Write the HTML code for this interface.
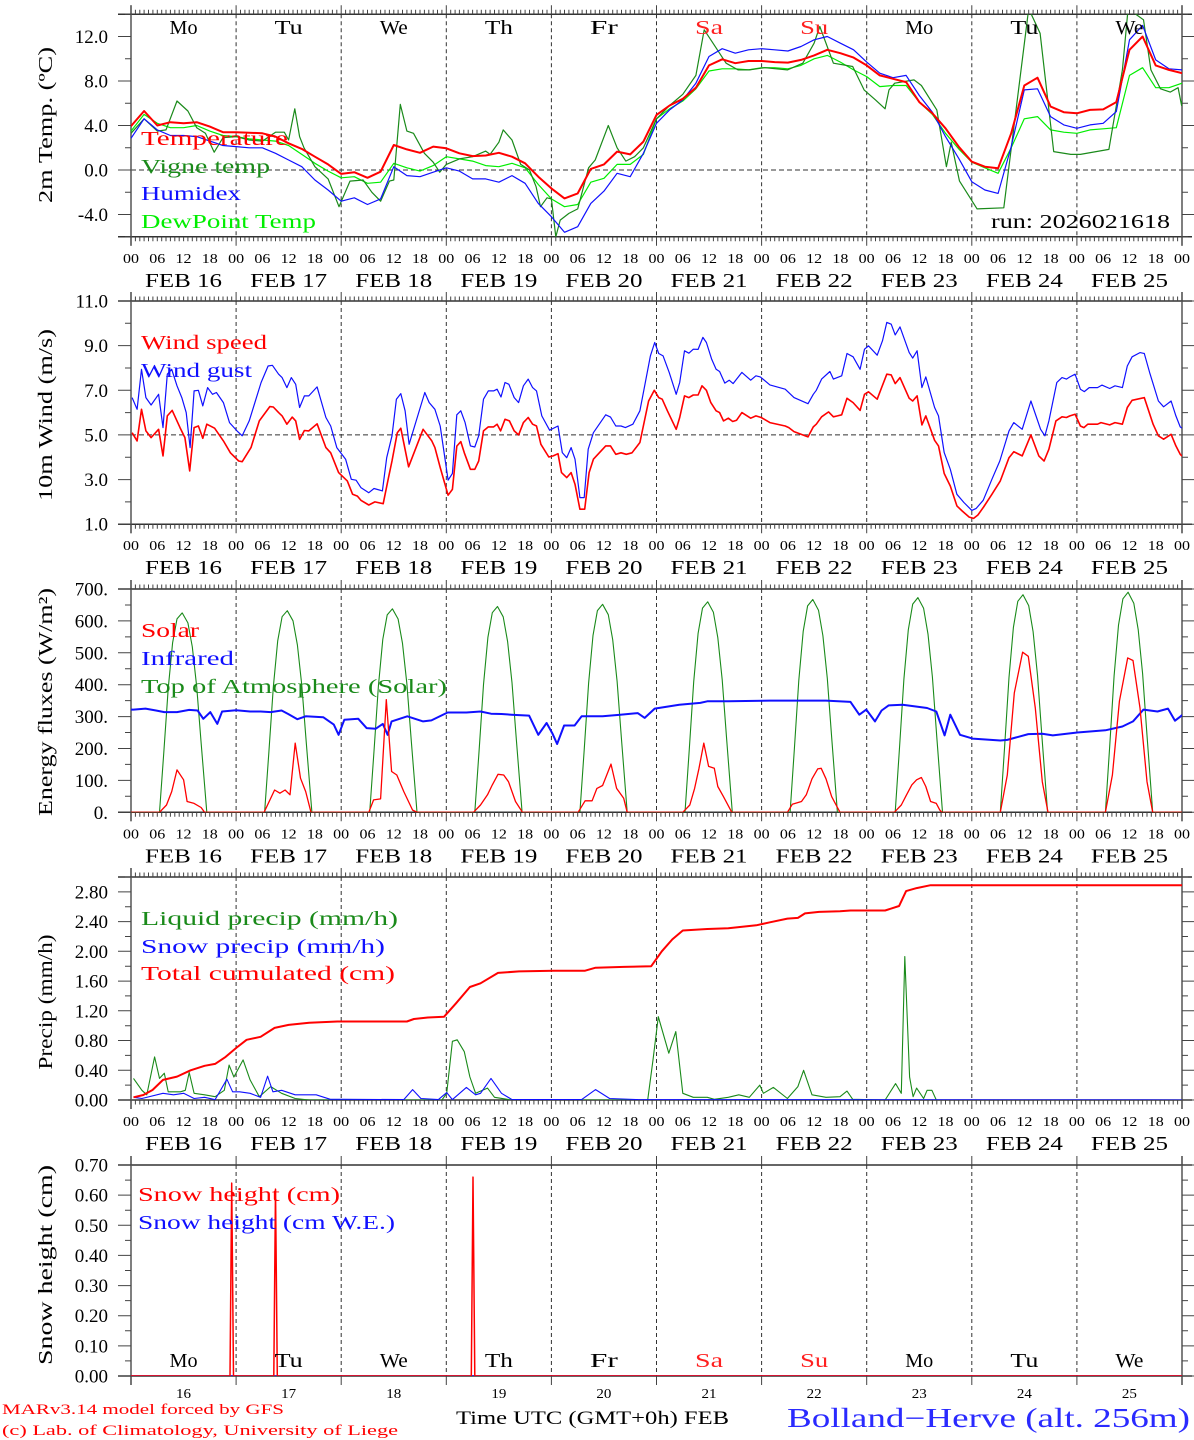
<!DOCTYPE html>
<html><head><meta charset="utf-8"><title>MAR forecast Bolland-Herve</title>
<style>
html,body{margin:0;padding:0;background:#fff;}
svg{display:block;font-family:"Liberation Serif",serif;}
</style></head>
<body>
<svg id="chart" width="1194" height="1440" viewBox="0 0 1194 1440" xmlns="http://www.w3.org/2000/svg"></svg>
<script>
// ---------- DATA ----------
const dayNames = ["Mo","Tu","We","Th","Fr","Sa","Su","Mo","Tu","We"];
const dayNameRed = [false,false,false,false,false,true,true,false,false,false];
const dayNumbers = ["16","17","18","19","20","21","22","23","24","25"];
const hourTickLabels = ["00","06","12","18"];

// Panel 1: temperatures, 3-hourly from FEB16 00 UTC
const tempVals = [3.95,5.3,4.0,4.3,4.2,4.3,3.9,3.4, 3.4,3.35,3.3,3.0,2.4,1.9,1.2,0.5, -0.35,-0.2,-0.7,-0.15,2.25,1.85,1.55,2.1, 1.95,1.5,1.25,1.3,1.55,1.2,0.6,-0.6, -1.65,-2.55,-2.1,0.1,0.5,1.65,1.4,2.55, 4.95,5.8,6.4,7.4,9.4,9.95,9.6,9.8, 9.8,9.7,9.65,9.9,10.3,10.8,10.5,10.1, 9.4,8.5,8.2,7.9,6.1,5.1,3.75,2.1, 0.75,0.3,0.15,3.3,7.6,8.3,5.7,5.2, 5.1,5.4,5.45,6.1,10.8,12.0,9.4,9.0,8.7];
const humidexVals = [2.85,4.6,3.6,3.1,3.1,3.0,2.6,2.2, 2.1,2.0,2.0,1.5,0.9,0.3,-0.9,-1.8, -2.8,-2.5,-3.1,-2.6,0.3,-0.5,-0.6,-0.2, 0.2,-0.1,-0.8,-0.8,-1.1,-0.5,-1.2,-3.0, -4.2,-5.6,-5.1,-3.0,-1.9,-0.3,-0.6,1.5, 4.2,5.4,6.3,7.8,10.2,10.9,10.5,10.8, 10.9,10.8,10.7,11.1,11.7,12.0,11.4,10.8, 9.7,8.7,8.3,8.5,6.7,5.2,3.0,1.05, -1.05,-1.8,-2.1,2.1,7.2,7.3,4.8,4.05, 3.75,4.05,4.2,5.25,11.7,13.0,9.9,9.1,9.0];
const dewVals = [3.5,5.0,4.2,3.8,3.8,4.0,3.5,3.1, 3.0,2.8,2.7,2.6,2.2,1.4,0.6,-0.1, -0.7,-0.6,-1.2,-1.1,0.6,0.2,-0.1,0.4, 1.2,1.0,0.8,0.4,0.3,0.6,0.2,-1.3, -2.6,-3.3,-3.1,-1.1,-0.75,0.5,0.5,1.4, 4.6,5.5,6.2,7.3,8.9,9.1,9.1,9.0, 9.2,9.2,9.1,9.4,10.0,10.3,9.7,9.0, 8.4,7.5,7.6,7.6,6.1,5.0,3.3,1.9, 0.7,0.2,-0.3,2.0,4.6,4.8,3.6,3.4, 3.3,3.6,3.7,3.8,8.5,9.2,7.4,7.4,7.8];
const vigneHours = [0,3,6,8,10.5,13,15,17,19,21,24,27,30,33,35,36,37.4,38.5,39.5,42,45,47.5,50,53,55,57,59,60,61.5,63,64.5,67,69,70.5,72,75,78,81,82,84,85,87,89,91,92.5,93.5,95,96,97,98,100,102,104.5,106,109,111,113,115,117,120,123,126,129,130.9,132.4,135.9,138.6,141.2,144.7,149.9,153.4,156.0,157.3,160.4,164.8,167.4,170.0,172.2,173.1,174.4,178.8,180.5,184.0,186.2,187.3,189.2,193.2,199.3,201.9,205.0,207.6,210.7,214.6,216.8,223.3,226.4,227.7,231.2,232.9,235.1,237.3,239.1,239.9,240];
const vigneVals = [3.3,4.6,3.5,3.6,6.2,5.3,3.8,3.3,1.6,2.9,3.0,2.7,2.6,3.4,3.4,2.7,5.5,3.0,2.0,0.3,-0.8,-3.3,-1.0,-0.9,-2.0,-2.8,-1.0,-0.9,5.9,3.5,3.3,1.5,0.7,-0.2,0.5,1.0,1.2,1.7,1.4,2.5,3.6,2.7,0.5,0.0,-1.5,-3.3,-2.5,-2.6,-6.0,-4.5,-3.9,-3.5,0.2,0.9,4.0,2.0,0.8,1.2,2.0,4.6,5.8,6.8,8.5,12.6,11.7,9.6,9.0,9.0,9.2,9.0,9.6,11.4,12.9,9.6,9.3,7.2,6.3,5.5,7.2,7.8,8.1,7.6,5.4,0.3,2.5,-1.0,-3.5,-3.4,4.8,14.5,12.3,1.65,1.4,1.4,1.85,9.0,14.5,13.5,9.0,7.3,7.0,7.4,5.8,6.2];

// Panel 2: wind
const windHours = [0.24,1.4,2.4,3.4,4.6,6.3,7.3,8.3,9.4,11.2,12.3,13.4,14.4,15.4,16.4,17.3,19.1,21.1,22.7,24.6,25.4,27.4,29.3,31.7,32.5,33.7,34.5,35.6,36.8,37.6,38.5,39.6,40.6,42.5,44.5,45.6,47.4,49.4,50.6,51.7,52.5,54.3,55.7,57.6,58.8,59.6,60.8,61.6,63.4,66.7,68.7,69.4,70.6,72.4,73.4,74.4,75.3,76.1,77.5,78.5,79.4,80.5,81.6,82.8,83.6,84.4,85.4,86.4,87.5,88.5,89.6,90.7,91.7,92.6,93.6,95.4,96.4,97.5,98.3,99.5,100.5,101.4,102.5,103.6,104.6,105.6,108.4,109.5,110.7,111.9,113.1,114.4,116.2,118.2,119.5,120.5,121.3,122.5,124.5,125.3,126.4,127.4,128.4,129.5,130.4,131.4,132.4,133.6,134.4,135.3,136.4,137.4,138.3,139.5,141.5,142.7,143.9,145.9,149.4,150.2,151.4,154.6,155.8,156.5,157.7,159.3,160.4,161.3,162.3,163.5,164.9,166.5,167.5,168.4,170.4,171.4,172.6,173.6,174.5,175.6,177.7,178.5,179.5,180.6,181.5,183.5,184.4,185.7,187.1,188.6,189.8,191.4,192.4,193.4,194.7,196.6,198.5,200.5,201.6,203.5,205.5,207.3,208.5,209.6,211.2,212.6,213.6,214.4,215.6,216.8,217.6,218.5,220.7,221.5,223.5,224.7,226.4,227.5,228.6,231.4,233.4,234.6,235.8,237.5,238.6,239.6,240];
const windSpeed = [5.1,4.73,6.15,5.18,4.88,5.25,4.06,5.85,6.1,5.33,4.88,3.39,5.33,5.4,4.85,5.48,5.3,4.73,4.2,3.83,3.8,4.43,5.63,6.27,6.25,6.0,5.85,5.48,5.8,5.63,4.8,5.2,5.18,5.5,4.43,4.2,3.31,2.94,2.34,2.26,2.07,1.86,2.0,1.92,3.09,3.83,5.1,5.3,3.57,5.25,4.73,4.43,3.54,2.3,2.56,4.5,4.7,4.2,3.46,3.46,3.83,5.18,5.36,5.36,5.48,5.18,5.7,5.63,5.18,5.0,5.55,5.78,5.48,5.4,4.58,4.01,4.06,4.16,3.31,3.09,3.31,2.79,1.67,1.67,3.31,3.91,4.51,4.51,4.13,4.2,4.13,4.2,4.66,6.52,7.0,6.67,6.6,6.08,5.25,5.78,6.75,6.67,6.79,6.79,7.2,7.0,6.45,6.08,6.0,5.63,5.75,5.6,5.66,6.0,5.75,5.85,5.78,5.55,5.4,5.33,5.15,4.91,5.36,5.48,5.81,6.03,5.81,5.85,5.9,6.64,6.45,6.1,6.82,6.93,6.6,7.12,7.72,7.69,7.3,7.57,6.64,6.52,6.75,5.45,5.85,4.76,4.51,3.27,2.71,1.82,1.59,1.32,1.26,1.41,1.77,2.34,2.94,3.98,4.25,4.06,5.0,4.06,3.83,4.36,5.63,5.81,5.78,5.85,5.93,5.4,5.33,5.48,5.48,5.55,5.45,5.55,5.48,6.23,6.55,6.67,5.48,4.96,4.81,5.03,4.51,4.13,4.05];
const gustHours = [0.24,1.4,2.4,3.4,4.6,6.3,7.3,8.3,9.3,10.5,11.6,12.6,13.5,14.4,15.4,16.4,17.5,18.6,19.5,21.1,22.5,24.2,25.4,27.0,29.7,31.3,32.3,33.7,34.5,35.6,36.6,37.6,38.5,39.6,40.6,42.5,44.5,45.6,47.0,49.0,50.3,51.4,52.5,54.3,55.5,57.4,58.4,59.6,60.6,61.6,62.6,63.5,67.1,68.1,69.4,70.6,72.4,73.4,74.4,75.3,76.3,77.5,78.5,79.4,80.5,81.6,82.8,83.6,84.5,85.4,86.3,87.5,88.5,89.6,90.7,91.7,92.6,93.8,95.6,97.5,98.5,99.5,100.5,101.4,102.5,103.5,104.4,105.6,108.4,109.5,110.7,111.9,112.9,114.6,116.2,118.6,119.6,120.5,121.5,122.9,124.5,125.3,126.4,127.4,128.4,129.5,130.6,131.4,132.6,133.6,134.4,135.6,136.6,137.5,139.5,141.5,142.7,143.7,145.9,149.4,151.4,154.6,155.8,156.5,157.7,159.6,160.4,162.3,163.5,164.9,166.5,167.5,168.4,170.4,171.6,172.6,173.6,174.5,175.6,177.7,178.5,179.5,180.6,181.5,183.5,184.4,185.7,187.1,188.6,190.2,192.0,193.0,194.6,196.6,198.4,200.5,201.6,203.5,205.5,207.7,208.7,209.6,211.4,212.6,213.6,214.4,215.6,216.8,217.7,218.8,220.7,221.7,223.5,224.7,226.4,227.5,228.6,230.4,231.4,232.6,234.6,235.8,237.5,238.6,239.6,240];
const windGust = [6.67,6.15,7.94,6.67,6.34,6.82,5.33,7.72,7.94,7.2,6.67,6.0,4.43,6.97,7.0,6.3,7.12,6.82,6.9,6.45,5.55,5.18,4.96,5.63,7.35,8.09,8.12,7.72,7.57,7.12,7.57,7.27,6.23,6.75,6.75,7.15,5.78,5.4,4.43,3.91,3.01,2.97,2.64,2.41,2.6,2.49,3.98,4.96,6.6,6.85,6.08,4.58,6.9,6.45,6.15,5.4,2.97,3.27,5.9,6.08,5.55,4.51,4.46,4.96,6.6,6.97,6.97,7.05,6.7,7.35,7.27,6.67,6.45,7.2,7.5,7.12,6.97,5.85,5.21,5.4,4.21,3.98,4.43,3.91,2.19,2.19,4.36,5.1,5.9,5.8,5.4,5.4,5.33,5.48,6.08,8.54,9.14,8.65,8.54,7.8,6.82,7.35,8.77,8.66,8.84,8.83,9.37,9.14,8.39,7.94,7.84,7.32,7.45,7.3,7.8,7.45,7.65,7.6,7.24,7.05,6.67,6.4,6.82,7.0,7.5,7.84,7.5,7.65,8.65,8.5,7.94,8.84,8.99,8.57,9.22,10.04,9.96,9.48,9.84,8.69,8.44,8.77,7.12,7.6,6.23,5.85,4.21,3.46,2.34,1.97,1.62,1.71,2.07,3.01,3.83,5.18,5.55,5.25,6.52,5.25,4.96,5.63,7.35,7.57,7.5,7.6,7.72,7.05,6.94,7.12,7.12,7.23,7.08,7.2,7.12,8.09,8.5,8.69,8.65,7.8,6.52,6.26,6.52,5.85,5.36,5.3];

// Panel 3: energy fluxes
const solarHours = [0,6.5,8.1,9.3,10.5,12.0,12.8,14.4,16.0,16.8, 30.4,32.8,34.0,35.2,36.3,37.5,38.7,39.9,41.1, 54.3,55.4,57.0,58.3,59.5,60.7,62.3,64.3,65.4, 78.2,79.8,81.4,82.5,83.8,85.1,86.2,87.8,89.4, 102.1,103.7,105.3,106.4,107.7,108.5,109.6,110.9,112.5,113.3, 126.0,127.6,128.7,129.7,130.8,131.9,133.2,134.0,135.3,137.2, 149.9,151.0,153.1,154.2,155.5,156.8,157.6,158.7,160.0,161.9, 174.3,175.9,177.0,178.3,179.4,180.5,181.5,182.6,183.9,184.7,185.2, 198.5,200.1,201.7,203.6,204.9,206.5,208.1,209.4, 222.5,224.1,225.7,227.6,228.8,230.4,232.0,233.3,240];
const solarVals = [0,0,23,65,133,102,34,28,15,0, 0,70,60,70,55,217,107,65,0, 0,39,42,353,128,117,65,7,0, 0,23,55,86,119,117,96,34,0, 0,36,36,75,84,112,151,75,44,0, 0,23,75,138,217,144,138,81,49,0, 0,25,34,55,105,136,138,105,49,0, 0,23,52,86,102,109,81,34,28,7,0, 0,117,374,502,489,327,96,0, 0,117,348,484,476,327,96,0,0];
const irHours = [0,0.57,3.3,5.7,7.6,10.5,13.3,15.2,16.5,18.1,19.7,20.8,24.0,27.2,29.6,31.9,34.4,35.9,38.0,39.9,43.9,46.3,47.4,48.7,51.9,53.8,55.9,57.5,58.6,59.5,63.1,66.7,68.6,72.3,76.6,79.8,82.2,84.6,86.9,90.9,93.0,94.9,96.2,97.3,98.9,101.3,102.9,107.7,111.7,115.7,117.3,119.6,125.2,130.0,131.6,136.4,145.9,152.3,158.7,164.3,166.3,167.9,169.9,171.4,173.0,176.2,181.8,183.9,185.8,187.1,189.3,192.2,198.5,200.1,204.9,208.1,210.5,216.1,222.5,226.4,228.8,231.2,234.4,236.8,238.4,239.7,240];
const irVals = [322,322,325,319,314,314,321,319,293,314,277,316,320,316,316,314,319,308,292,301,298,275,243,290,293,264,262,277,243,285,301,285,288,313,313,316,309,308,306,303,243,280,248,214,272,272,301,301,306,311,296,325,337,343,348,348,350,350,350,346,306,322,285,319,335,337,327,316,241,306,243,231,225,227,245,246,241,250,257,269,285,322,316,325,287,301,305];
const toaPeaks = [625,632,638,645,652,660,667,673,682,690];
const toaOffsets = [6.5,7.5,8.5,9.5,10.5,11.7,13,14,15,16,17.3];
const toaShape = [0,0.3,0.62,0.85,0.97,1,0.95,0.83,0.63,0.35,0];

// Panel 4: precipitation
const cumHours = [0.57,2.8,4.9,7.3,10.5,13.6,16.8,19.2,21.6,24.0,26.4,29.6,32.8,36.0,40.7,47.1,56.7,63.0,64.6,67.8,71.5,74.2,77.4,79.8,83.8,88.6,96.5,103.7,106.1,112.5,118.8,121.2,123.6,126.0,131.6,136.4,142.8,145.9,149.9,152.3,153.9,157.1,161.9,164.3,172.2,175.4,177.0,179.4,182.6,240];
const cumVals = [0.036,0.067,0.135,0.27,0.315,0.40,0.46,0.485,0.58,0.70,0.81,0.85,0.97,1.01,1.04,1.056,1.056,1.056,1.09,1.11,1.12,1.30,1.52,1.57,1.71,1.73,1.74,1.74,1.78,1.79,1.80,2.00,2.16,2.28,2.30,2.31,2.35,2.39,2.44,2.45,2.51,2.53,2.54,2.55,2.55,2.61,2.81,2.85,2.89,2.89];
const liqHours = [0.57,2.5,3.6,5.4,6.5,7.6,8.5,11.3,12.4,13.3,14.4,16.8,19.2,21.3,22.4,23.5,25.6,27.2,29.3,31.9,34.4,37.5,40.7,71.0,72.1,73.4,74.5,76.1,77.4,78.7,81.4,83.0,86.9,118.0,119.2,120.4,122.8,124.4,126.0,128.4,131.6,133.2,136.4,138.8,141.2,143.6,144.4,146.7,149.9,152.3,153.6,155.5,158.7,161.9,163.5,164.8,172.2,174.6,175.9,176.7,177.8,178.6,179.4,181.0,181.8,182.9,183.9,240];
const liqVals = [0.29,0.13,0.07,0.58,0.29,0.36,0.11,0.11,0.13,0.37,0.09,0.07,0.045,0.13,0.47,0.31,0.54,0.27,0.045,0.18,0.09,0.02,0,0,0.09,0.79,0.81,0.65,0.31,0.09,0.16,0.036,0,0,0.54,1.12,0.63,0.92,0.09,0.036,0.036,0.01,0.036,0.07,0.036,0.2,0.09,0.17,0.02,0.18,0.40,0.07,0.036,0.045,0.12,0.01,0,0.22,0.09,1.93,0.31,0.045,0.16,0.02,0.13,0.13,0,0];
const snowHours = [0.57,2.5,7.3,9.7,12.0,14.4,16.8,19.2,21.9,23.2,24.8,27.2,29.6,31.2,32.4,34.4,37.5,42.3,45.5,48.7,62.3,64.3,66.2,70.2,72.1,73.4,76.6,78.7,79.8,82.2,84.6,87.0,102.9,106.1,109.3,115.7,240];
const snowVals = [0.036,0.02,0.09,0.07,0.09,0.02,0.036,0.005,0.28,0.11,0.11,0.09,0.036,0.32,0.11,0.13,0.07,0.07,0.01,0.01,0.005,0.14,0.02,0.005,0.1,0.005,0.17,0.07,0.09,0.29,0.09,0.005,0.005,0.14,0.02,0.005,0];

// Panel 5: snow height
const snowHHours = [0,22.6,23.0,23.4,32.6,33.0,33.4,77.7,78.1,78.5,240];
const snowHVals = [0,0,0.64,0,0,0.62,0,0,0.66,0,0];
const snowWEHours = [0,240];
const snowWEVals = [0,0];

// ---------- LAYOUT ----------
const NS = "http://www.w3.org/2000/svg";
const svg = document.getElementById("chart");
const X0 = 131, X1 = 1182, HOURS = 240;
function xs(h){ return X0 + h*(X1-X0)/HOURS; }
const panels = [
  {top:14.25, bot:236.75, vmin:-6, vmax:14},
  {top:301, bot:524.2, vmin:1, vmax:11},
  {top:589, bot:812.3, vmin:0, vmax:700},
  {top:877, bot:1100, vmin:0, vmax:3.0},
  {top:1165, bot:1376, vmin:0, vmax:0.7}
];
function ys(p, v){ const P=panels[p]; return P.bot - (v-P.vmin)/(P.vmax-P.vmin)*(P.bot-P.top); }

function el(tag, attrs, parent){
  const e = document.createElementNS(NS, tag);
  for (const k in attrs) e.setAttribute(k, attrs[k]);
  (parent||svg).appendChild(e);
  return e;
}
function txt(x, y, s, size, fill, anchor, len, parent){
  const a = {x:x, y:y, "font-size":size, fill:fill||"#000", "text-anchor":anchor||"start"};
  if (len){ a.textLength = len; a.lengthAdjust = "spacingAndGlyphs"; }
  const e = el("text", a, parent);
  e.textContent = s;
  return e;
}

// clip paths
const defs = el("defs", {});
panels.forEach((P,i)=>{
  const cp = el("clipPath", {id:"clip"+i}, defs);
  el("rect", {x:X0, y:P.top, width:X1-X0, height:P.bot-P.top}, cp);
});

function drawLine(p, hours, vals, color, w, name){
  const pts = hours.map((h,i)=> xs(h).toFixed(1)+","+ys(p, vals[i]).toFixed(1)).join(" ");
  const pl = el("polyline", {points:pts, fill:"none", stroke:color, "stroke-width":w, "stroke-linejoin":"round", "clip-path":"url(#clip"+p+")"});
  
  
  return pl;
}

// ---------- FRAMES, AXES ----------
function drawFrame(p, yTicks, yMinor, fmt, refLine, hourLabels){
  const P = panels[p];
  const g = el("g", {});
  
  
  // day dashed lines
  for (let d=1; d<10; d++){
    el("line", {x1:xs(d*24), x2:xs(d*24), y1:P.top, y2:P.bot, stroke:"#333", "stroke-width":1, "stroke-dasharray":"4,3"}, g);
  }
  if (refLine !== null){
    el("line", {x1:X0, x2:X1, y1:ys(p,refLine), y2:ys(p,refLine), stroke:"#333", "stroke-width":1, "stroke-dasharray":"5,3"}, g);
  }
  // box
  el("line", {x1:118, x2:1192, y1:P.top, y2:P.top, stroke:"#333", "stroke-width":1.5}, g);
  el("line", {x1:118, x2:1192, y1:P.bot, y2:P.bot, stroke:"#333", "stroke-width":1.5}, g);
  el("line", {x1:X0, x2:X0, y1:P.top-9, y2:P.bot+9, stroke:"#555", "stroke-width":1.5}, g);
  el("line", {x1:X1, x2:X1, y1:P.top-9, y2:P.bot+9, stroke:"#555", "stroke-width":1.5}, g);
  // x ticks
  let path = "";
  for (let h=0; h<=HOURS; h++){
    const major = h%24===0;
    if (!hourLabels && !major) continue;
    const L = major ? 9 : 4.5;
    const x = xs(h).toFixed(1);
    path += "M"+x+","+P.top+"v"+(-L)+"M"+x+","+P.bot+"v"+L;
  }
  // y ticks
  yMinor.forEach(v=>{ const y=ys(p,v).toFixed(1); path += "M"+(X0-6)+","+y+"h6M"+X1+","+y+"h6"; });
  yTicks.forEach(v=>{ const y=ys(p,v).toFixed(1); path += "M"+(X0-13)+","+y+"h13M"+X1+","+y+"h12"; });
  el("path", {d:path, stroke:"#444", "stroke-width":1, fill:"none"}, g);
  yTicks.forEach(v=>{
    const t = txt(108, ys(p,v)+6.5, fmt(v), 19, "#000", "end", null, g);
    
    
  });
  if (hourLabels){
    for (let d=0; d<10; d++){
      for (let k=0; k<4; k++){
        txt(xs(d*24+k*6), P.bot+26, hourTickLabels[k], 14, "#000", "middle", 16, g);
      }
      const f = txt(xs(d*24+12), P.bot+50, "FEB "+dayNumbers[d], 20, "#000", "middle", 77, g);
      
      
    }
    txt(xs(240), P.bot+26, "00", 14, "#000", "middle", 16, g);
  }
}
function range(a,b,s){ const r=[]; for(let v=a; v<=b+1e-9; v+=s) r.push(+v.toFixed(4)); return r; }

drawFrame(0, [12,8,4,0,-4], range(-6,14,2), v=>v.toFixed(1), 0, true);
drawFrame(1, [11,9,7,5,3,1], range(1,11,1), v=>v.toFixed(1), 5, true);
drawFrame(2, range(0,700,100), range(0,700,50), v=>v.toFixed(0)+".", null, true);
drawFrame(3, range(0,2.8,0.4), range(0,3.0,0.2), v=>v.toFixed(2), null, true);
drawFrame(4, range(0,0.7,0.1), range(0,0.7,0.05), v=>v.toFixed(2), null, false);

// ---------- SERIES ----------
const hours3 = tempVals.map((_,i)=>i*3);
drawLine(0, hours3, dewVals, "#00ee00", 1.2, "dewpoint-line");
drawLine(0, vigneHours, vigneVals, "#1a8a1a", 1.2, "vigne-temp-line");
drawLine(0, hours3, humidexVals, "#1010ff", 1.2, "humidex-line");
drawLine(0, hours3, tempVals, "#ff0000", 2, "temperature-line");

drawLine(1, gustHours, windGust, "#1010ff", 1.2, "wind-gust-line");
drawLine(1, windHours, windSpeed, "#ff0000", 1.6, "wind-speed-line");

// TOA solar
const toaH = [0], toaV = [0];
toaPeaks.forEach((pk,d)=>{ toaOffsets.forEach((o,k)=>{ toaH.push(d*24+o); toaV.push(pk*toaShape[k]); }); });
toaH.push(240); toaV.push(0);
drawLine(2, toaH, toaV, "#1a8a1a", 1.1, "toa-solar-line");
drawLine(2, irHours, irVals, "#1010ff", 2, "infrared-line");
drawLine(2, solarHours, solarVals, "#ff0000", 1.3, "solar-line");

drawLine(3, liqHours, liqVals, "#1a8a1a", 1.1, "liquid-precip-line");
drawLine(3, snowHours, snowVals, "#1010ff", 1.1, "snow-precip-line");
drawLine(3, cumHours, cumVals, "#ff0000", 2, "total-cumulated-line");

drawLine(4, snowWEHours, snowWEVals, "#1010ff", 1.5, "snow-height-we-line");
drawLine(4, snowHHours, snowHVals, "#ff0000", 1.5, "snow-height-line");

// ---------- DAY NAMES ----------
for (let d=0; d<10; d++){
  const c = dayNameRed[d] ? "#ff2020" : "#000";
  const a = txt(xs(d*24+12), 34, dayNames[d], 20, c, "middle", dayNames[d].length*14);
  
  
  const b = txt(xs(d*24+12), 1367, dayNames[d], 20, c, "middle", dayNames[d].length*14);
  
  
  const n = txt(xs(d*24+12), 1398, dayNumbers[d], 14, "#000", "middle", 15);
  
  
}

// ---------- LEGENDS ----------
function legend(x, y, s, color, len, name){
  const t = txt(x, y, s, 20, color, "start", len);
  
  
}
legend(141,145,"Temperature","#ff0000",147,"legend-temperature");
legend(141,173,"Vigne temp","#1a8a1a",129,"legend-vigne-temp");
legend(141,200,"Humidex","#1010ff",100,"legend-humidex");
legend(141,228,"DewPoint Temp","#00ee00",175,"legend-dewpoint");
legend(141,349,"Wind speed","#ff0000",126,"legend-wind-speed");
legend(141,377,"Wind gust","#1010ff",111,"legend-wind-gust");
legend(141,637,"Solar","#ff0000",58,"legend-solar");
legend(141,665,"Infrared","#1010ff",93,"legend-infrared");
legend(141,693,"Top of Atmosphere (Solar)","#1a8a1a",306,"legend-toa");
legend(141,925,"Liquid precip (mm/h)","#1a8a1a",257,"legend-liquid-precip");
legend(141,953,"Snow precip (mm/h)","#1010ff",244,"legend-snow-precip");
legend(141,980,"Total cumulated (cm)","#ff0000",254,"legend-total-cumulated");
legend(138,1201,"Snow height (cm)","#ff0000",202,"legend-snow-height");
legend(138,1229,"Snow height (cm W.E.)","#1010ff",257,"legend-snow-height-we");
legend(991,228,"run: 2026021618","#000",179,"run-label");

// ---------- AXIS TITLES ----------
function ytitle(cy, s, len, name){
  const t = el("text", {x:0, y:0, "font-size":20, "text-anchor":"middle", fill:"#000", textLength:len, lengthAdjust:"spacingAndGlyphs", transform:"translate(52,"+cy+") rotate(-90)"});
  t.textContent = s;
  
  
}
ytitle(125, "2m Temp. (\u00baC)", 156, "y-axis-title-temp");
ytitle(415, "10m Wind (m/s)", 172, "y-axis-title-wind");
ytitle(702, "Energy fluxes (W/m\u00b2)", 228, "y-axis-title-energy");
ytitle(1002, "Precip (mm/h)", 135, "y-axis-title-precip");
ytitle(1265, "Snow height (cm)", 200, "y-axis-title-snow");

// ---------- FOOTER ----------
let f;
f = txt(2, 1414, "MARv3.14 model forced by GFS", 15, "#ff0000", "start", 282);  
f = txt(2, 1435, "(c) Lab. of Climatology, University of Liege", 15, "#ff0000", "start", 396);  
f = txt(456, 1424, "Time UTC (GMT+0h) FEB", 19, "#000", "start", 273);  
f = txt(787, 1427, "Bolland\u2212Herve (alt. 256m)", 27, "#2a2aff", "start", 403);  
</script>
</body></html>
